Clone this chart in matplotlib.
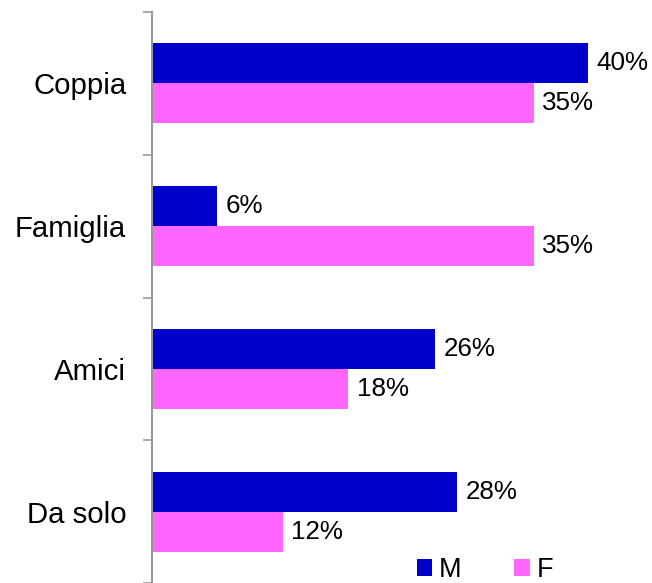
import matplotlib
matplotlib.use("Agg")
import matplotlib.pyplot as plt
from matplotlib.patches import Patch
import numpy as np

plt.rcParams['font.family'] = ['Liberation Sans', 'DejaVu Sans']

categories = ["Coppia", "Famiglia", "Amici", "Da solo"]
series_names = ["M", "F"]
m_values = [40, 6, 26, 28]
f_values = [35, 35, 18, 12]
colors = {"M": "#0000CC", "F": "#FF66FF"}

fig = plt.figure(figsize=(6.52, 5.83), dpi=100)
W, H = 652, 583
ax = fig.add_axes([152 / W, 0.0, 1 - 152 / W, (H - 12) / H])

y = np.arange(len(categories))
bh = 0.28
bars_m = ax.barh(y - bh / 2, m_values, height=bh, color=colors["M"], label="M")
bars_f = ax.barh(y + bh / 2, f_values, height=bh, color=colors["F"], label="F")

for bars, vals in ((bars_m, m_values), (bars_f, f_values)):
    for b, v in zip(bars, vals):
        ax.annotate(f"{v}%", xy=(b.get_width(), b.get_y() + b.get_height() / 2),
                    xytext=(6, 0), textcoords="offset points",
                    va="center", ha="left", fontsize=18.7, color="#000000",
                    annotation_clip=False)

ax.set_xlim(0, 500 / (436 / 40))
ax.set_ylim(len(categories) - 0.5, -0.5)

ax.set_yticks(y)
ax.set_yticklabels(categories, fontsize=21.2)
ax.set_yticks(np.arange(len(categories) + 1) - 0.5, minor=True)
ax.tick_params(axis="y", which="major", length=0, pad=18.5)
ax.tick_params(axis="y", which="minor", length=6.5, width=1.2, color="#999999")
ax.set_xticks([])

for s in ("top", "right", "bottom"):
    ax.spines[s].set_visible(False)
ax.spines["left"].set_color("#999999")
ax.spines["left"].set_linewidth(1.5)

handles = [Patch(facecolor=colors[n], edgecolor="none") for n in series_names]
fig.legend(handles, series_names, loc="lower left",
           bbox_to_anchor=(417 / W, 0.0), ncol=2, frameon=False,
           fontsize=19.5, handlelength=0.56, handleheight=0.56,
           handletextpad=0.25, columnspacing=1.95, borderpad=0, borderaxespad=0)

fig.savefig("out.png", dpi=100)
